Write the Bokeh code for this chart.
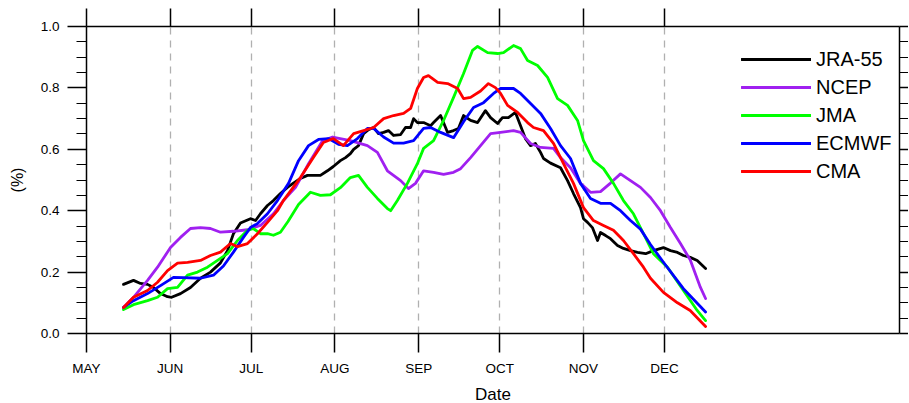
from bokeh.plotting import figure
from bokeh.models import (Range1d, FixedTicker, LinearAxis, Legend, LegendItem,
                          PrintfTickFormatter)
from bokeh.embed import file_html
from bokeh.resources import INLINE

# ---------------- data (day offset from 1 May, fraction) ----------------
month_labels = ["MAY", "JUN", "JUL", "AUG", "SEP", "OCT", "NOV", "DEC"]
month_days = [0, 31, 61, 92, 123, 153, 184, 214]
y_ticks = [0.0, 0.2, 0.4, 0.6, 0.8, 1.0]
y_minor = [0.05, 0.1, 0.15, 0.25, 0.3, 0.35, 0.45, 0.5, 0.55, 0.65, 0.7, 0.75, 0.85, 0.9, 0.95]

jra_day = [13.7, 17.4, 20.0, 22.6, 24.8, 27.4, 30.0, 31.5, 34.8, 38.5, 42.2, 45.9, 49.6, 52.2,
           54.4, 57.0, 60.7, 62.6, 64.4, 67.0, 69.2, 71.8, 74.4, 76.6, 79.2, 81.8, 84.0, 86.6,
           89.2, 91.4, 94.0, 95.9, 97.7, 98.9, 100.7, 102.6, 104.4, 106.3, 108.1, 110.0, 111.8,
           113.7, 116.3, 118.1, 120.0, 121.1, 122.5, 124.8, 127.4, 128.5, 131.1, 133.7, 135.9,
           137.7, 139.6, 142.2, 144.8, 147.7, 149.6, 152.2, 154.0, 156.2, 158.8, 160.7, 162.5,
           164.4, 166.2, 168.1, 169.2, 171.8, 175.5, 178.1, 180.3, 182.9, 184.0, 185.5, 187.3,
           189.2, 190.3, 192.2, 194.0, 196.6, 198.8, 201.4, 204.0, 207.0, 209.9, 213.6, 216.2,
           218.8, 221.0, 223.5, 226.1, 229.2]
jra_val = [0.160, 0.173, 0.163, 0.160, 0.150, 0.130, 0.120, 0.118, 0.130, 0.150, 0.180, 0.200,
           0.230, 0.270, 0.325, 0.360, 0.374, 0.368, 0.390, 0.417, 0.433, 0.456, 0.476, 0.490,
           0.505, 0.515, 0.515, 0.515, 0.530, 0.544, 0.563, 0.573, 0.586, 0.600, 0.612, 0.651,
           0.664, 0.671, 0.651, 0.655, 0.661, 0.645, 0.648, 0.671, 0.671, 0.700, 0.687, 0.687,
           0.677, 0.687, 0.710, 0.655, 0.661, 0.668, 0.710, 0.694, 0.687, 0.726, 0.703, 0.684,
           0.703, 0.703, 0.720, 0.677, 0.635, 0.612, 0.619, 0.590, 0.570, 0.555, 0.540, 0.498,
           0.456, 0.410, 0.374, 0.362, 0.345, 0.303, 0.329, 0.319, 0.309, 0.287, 0.277, 0.270,
           0.264, 0.260, 0.270, 0.280, 0.270, 0.264, 0.254, 0.248, 0.238, 0.212]

ncep_day = [13.7, 17.4, 22.6, 26.3, 31.1, 34.8, 38.5, 42.2, 45.9, 49.6, 54.4, 59.6, 64.4, 69.2,
            72.9, 77.4, 82.2, 87.4, 91.1, 97.7, 104.0, 107.7, 111.4, 116.3, 119.2, 121.8, 124.8,
            128.5, 132.2, 135.9, 138.5, 142.2, 145.9, 149.6, 153.3, 158.1, 160.7, 164.4, 168.1,
            172.9, 175.5, 179.2, 182.9, 186.6, 190.3, 194.0, 197.7, 201.4, 205.1, 208.8, 212.5,
            216.2, 219.9, 223.5, 227.3, 229.2]
ncep_val = [0.085, 0.118, 0.173, 0.216, 0.280, 0.313, 0.342, 0.345, 0.342, 0.330, 0.333, 0.338,
            0.352, 0.390, 0.433, 0.476, 0.553, 0.628, 0.640, 0.628, 0.612, 0.590, 0.530, 0.498,
            0.472, 0.489, 0.530, 0.525, 0.518, 0.525, 0.537, 0.573, 0.612, 0.651, 0.655, 0.661,
            0.655, 0.619, 0.606, 0.603, 0.573, 0.540, 0.489, 0.460, 0.462, 0.490, 0.520, 0.498,
            0.476, 0.443, 0.400, 0.345, 0.293, 0.240, 0.150, 0.114]

jma_day = [13.7, 17.4, 22.6, 26.3, 30.0, 33.7, 37.4, 41.1, 44.8, 48.5, 52.2, 55.9, 59.6, 61.8,
           64.4, 67.0, 69.2, 71.8, 74.6, 78.5, 82.9, 86.6, 90.3, 94.0, 97.7, 100.7, 104.0, 107.7,
           111.4, 112.6, 115.1, 118.8, 122.5, 124.8, 128.5, 132.2, 135.9, 139.6, 142.9, 144.8,
           148.5, 152.2, 154.4, 158.1, 160.7, 163.3, 167.0, 170.7, 174.4, 178.1, 181.8, 184.0,
           187.7, 191.4, 195.1, 198.8, 202.5, 206.2, 209.9, 215.1, 221.0, 226.1, 229.2]
jma_val = [0.078, 0.094, 0.107, 0.118, 0.146, 0.150, 0.190, 0.200, 0.216, 0.238, 0.260, 0.303,
           0.336, 0.342, 0.325, 0.325, 0.320, 0.330, 0.365, 0.420, 0.460, 0.450, 0.452, 0.475,
           0.508, 0.515, 0.476, 0.440, 0.407, 0.400, 0.433, 0.489, 0.553, 0.603, 0.628, 0.694,
           0.769, 0.847, 0.922, 0.935, 0.915, 0.912, 0.915, 0.938, 0.928, 0.889, 0.873, 0.834,
           0.765, 0.743, 0.694, 0.628, 0.563, 0.537, 0.489, 0.433, 0.390, 0.325, 0.260, 0.216,
           0.140, 0.075, 0.042]

ecm_day = [13.7, 17.4, 22.6, 27.4, 32.2, 35.9, 42.2, 47.0, 50.7, 54.4, 58.1, 60.7, 63.3, 67.0,
           70.7, 74.8, 78.5, 82.2, 85.9, 89.6, 93.3, 96.6, 100.3, 104.0, 106.3, 110.0, 113.7,
           117.4, 121.1, 124.8, 127.4, 131.1, 135.9, 139.6, 143.3, 147.0, 150.7, 153.3, 158.1,
           160.7, 164.4, 168.1, 171.8, 175.5, 179.2, 182.9, 186.6, 190.3, 194.0, 197.7, 201.4,
           205.1, 208.8, 213.6, 221.0, 229.2]
ecm_val = [0.085, 0.107, 0.130, 0.156, 0.183, 0.182, 0.180, 0.190, 0.220, 0.265, 0.313, 0.345,
           0.358, 0.390, 0.433, 0.489, 0.563, 0.612, 0.632, 0.635, 0.616, 0.612, 0.635, 0.668,
           0.668, 0.640, 0.620, 0.620, 0.628, 0.668, 0.671, 0.655, 0.638, 0.690, 0.736, 0.752,
           0.782, 0.798, 0.798, 0.782, 0.749, 0.717, 0.668, 0.612, 0.570, 0.489, 0.440, 0.424,
           0.424, 0.400, 0.368, 0.340, 0.290, 0.232, 0.146, 0.070]

cma_day = [13.7, 17.4, 22.6, 26.3, 30.0, 33.7, 37.4, 42.2, 45.9, 49.6, 53.3, 55.9, 59.6, 63.3,
           67.0, 70.7, 72.9, 79.2, 84.0, 87.7, 91.4, 95.1, 98.9, 102.6, 106.3, 110.0, 113.7,
           117.4, 120.0, 122.5, 124.8, 126.6, 130.0, 133.7, 137.4, 139.6, 142.2, 145.9, 148.8,
           151.4, 153.3, 155.9, 159.6, 163.3, 165.5, 169.2, 172.9, 176.6, 180.3, 184.0, 187.7,
           191.4, 195.1, 198.8, 202.5, 206.2, 208.8, 213.6, 218.8, 223.5, 229.2]
cma_val = [0.085, 0.118, 0.140, 0.167, 0.205, 0.229, 0.232, 0.238, 0.254, 0.265, 0.293, 0.283,
           0.293, 0.325, 0.362, 0.400, 0.433, 0.508, 0.573, 0.622, 0.635, 0.612, 0.651, 0.661,
           0.671, 0.700, 0.710, 0.717, 0.733, 0.798, 0.834, 0.840, 0.818, 0.814, 0.798, 0.765,
           0.769, 0.790, 0.814, 0.801, 0.782, 0.743, 0.720, 0.687, 0.671, 0.661, 0.619, 0.553,
           0.489, 0.410, 0.368, 0.352, 0.336, 0.303, 0.260, 0.216, 0.180, 0.134, 0.100, 0.075,
           0.023]

series = [
    ("JRA-55", jra_day, jra_val, "#000000"),
    ("NCEP", ncep_day, ncep_val, "#A020F0"),
    ("JMA", jma_day, jma_val, "#00FF00"),
    ("ECMWF", ecm_day, ecm_val, "#0000FF"),
    ("CMA", cma_day, cma_val, "#FF0000"),
]

FONT = "Liberation Sans"

p = figure(output_backend="svg", toolbar_location=None,
           frame_width=813, frame_height=307,
           x_range=Range1d(0, 301), y_range=Range1d(0, 1.0),
           x_axis_location=None, y_axis_location=None,
           min_border_left=86, min_border_top=26, min_border_right=9, min_border_bottom=64)
p.outline_line_color = None
p.background_fill_color = "white"
p.border_fill_color = "white"

# dashed month grid
p.xgrid.ticker = FixedTicker(ticks=month_days[1:])
p.xgrid.grid_line_color = "#b0b0b0"
p.xgrid.grid_line_dash = "7 6"
p.xgrid.grid_line_width = 1.3
p.ygrid.grid_line_color = None


def style_axis(ax):
    ax.axis_line_color = "black"
    ax.axis_line_width = 1.5
    ax.major_tick_line_color = "black"
    ax.major_tick_line_width = 1.5
    ax.minor_tick_line_color = "black"
    ax.minor_tick_line_width = 1
    ax.major_tick_in = 0
    ax.minor_tick_in = 0
    ax.major_label_text_font = FONT
    ax.major_label_text_color = "black"
    ax.axis_label_text_font = FONT
    ax.axis_label_text_font_style = "normal"
    ax.axis_label_text_color = "black"


xb = LinearAxis(ticker=FixedTicker(ticks=month_days, minor_ticks=[]),
                major_label_overrides={d: m for d, m in zip(month_days, month_labels)},
                axis_label="Date")
style_axis(xb)
xb.major_tick_out = 19
xb.major_label_standoff = 8
xb.major_label_text_font_size = "13.5px"
xb.axis_label_text_font_size = "17px"
xb.axis_label_standoff = 6
p.add_layout(xb, "below")

xt = LinearAxis(ticker=FixedTicker(ticks=month_days, minor_ticks=[]),
                major_label_overrides={d: "" for d in month_days})
style_axis(xt)
xt.major_tick_out = 18
xt.major_label_standoff = 0
p.add_layout(xt, "above")

yl = LinearAxis(ticker=FixedTicker(ticks=y_ticks, minor_ticks=y_minor),
                formatter=PrintfTickFormatter(format="%.1f"), axis_label="(%)")
style_axis(yl)
yl.major_tick_out = 19
yl.minor_tick_out = 10
yl.major_label_standoff = 8
yl.major_label_text_font_size = "13.5px"
yl.axis_label_text_font_size = "16px"
yl.axis_label_standoff = 12
p.add_layout(yl, "left")

yr = LinearAxis(ticker=FixedTicker(ticks=y_ticks, minor_ticks=y_minor),
                major_label_overrides={t: "" for t in y_ticks})
style_axis(yr)
yr.major_tick_out = 9
yr.minor_tick_out = 9
yr.major_label_standoff = 0
p.add_layout(yr, "right")

items = []
for name, xs, ys, col in series:
    r = p.line(xs, ys, line_color=col, line_width=2.8, line_join="round", line_cap="round")
    items.append(LegendItem(label=name, renderers=[r]))

legend = Legend(items=items, location=(655, 148), glyph_width=70, glyph_height=28,
                label_standoff=5, spacing=0, padding=0, margin=0,
                label_text_font=FONT, label_text_font_size="20px",
                label_text_color="black",
                border_line_color=None, background_fill_alpha=0)
p.add_layout(legend)

open("out.html", "w").write(file_html(p, INLINE))
